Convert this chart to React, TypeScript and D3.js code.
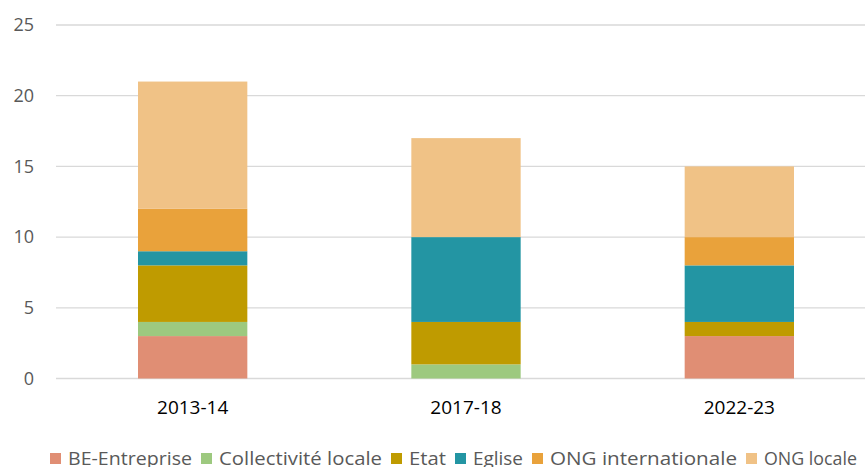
import React from 'react';
import * as d3 from 'd3';

const categories = ['2013-14', '2017-18', '2022-23'];
const seriesNames = ['BE-Entreprise', 'Collectivité locale', 'Etat', 'Eglise', 'ONG internationale', 'ONG locale'];
const beEntreprise = [3, 0, 3];
const collectivite = [1, 1, 0];
const etat = [4, 3, 1];
const eglise = [1, 6, 4];
const ongInter = [3, 0, 2];
const ongLocale = [9, 7, 5];
const yTicks = [0, 5, 10, 15, 20, 25];

const colors = ['#E08E74', '#9DC97F', '#BF9B00', '#2395A3', '#E9A23B', '#F0C286'];
// largeur du texte de chaque entrée de légende (mise en page)
const legendTextWidths = [124, 163, 37, 50, 187, 93];

const width = 865;
const height = 467;

export default function App() {
  const values = [beEntreprise, collectivite, etat, eglise, ongInter, ongLocale];
  const rows = categories.map((c, i) => {
    const row: any = { cat: c };
    seriesNames.forEach((s, j) => (row[s] = values[j][i]));
    return row;
  });
  const stacked = d3.stack().keys(seriesNames)(rows);

  const x = d3.scaleBand().domain(categories).range([56, 876]).paddingInner(0.6).paddingOuter(0.3);
  const y = d3.scaleLinear().domain([0, 25]).range([378.5, 25]);

  // position des entrées de légende
  let cursor = 50;
  const legendItems = seriesNames.map((name, i) => {
    const item = { name, sq: cursor, tx: cursor + 18, w: legendTextWidths[i], color: colors[i] };
    cursor += 18 + legendTextWidths[i] + 9;
    return item;
  });

  return (
    <svg width={width} height={height} style={{ position: 'absolute', left: 0, top: 0, background: '#fff' }}
      fontFamily="'Open Sans', sans-serif">
      {yTicks.map(t => (
        <g key={t}>
          <line x1={56} x2={width} y1={y(t)} y2={y(t)} stroke="#D9D9D9" strokeWidth={1.3} />
          <text x={34} y={y(t)} dy="0.35em" textAnchor="end" fontSize={18} fill="#595959">{t}</text>
        </g>
      ))}
      {stacked.map((layer, j) => (
        <g key={layer.key} fill={colors[j]}>
          {layer.map((d, i) => (
            d[1] - d[0] > 0 ? (
              <rect key={i} x={x(categories[i])} width={x.bandwidth()} y={y(d[1])} height={y(d[0]) - y(d[1])} />
            ) : null
          ))}
        </g>
      ))}
      {categories.map(c => (
        <text key={c} x={(x(c) as number) + x.bandwidth() / 2} y={414} textAnchor="middle" fontSize={19} fill="#000">{c}</text>
      ))}
      {legendItems.map(it => (
        <g key={it.name}>
          <rect x={it.sq} y={453} width={11} height={11} fill={it.color} />
          <text x={it.tx} y={465} fontSize={18} fill="#595959" textLength={it.w} lengthAdjust="spacingAndGlyphs">{it.name}</text>
        </g>
      ))}
    </svg>
  );
}
